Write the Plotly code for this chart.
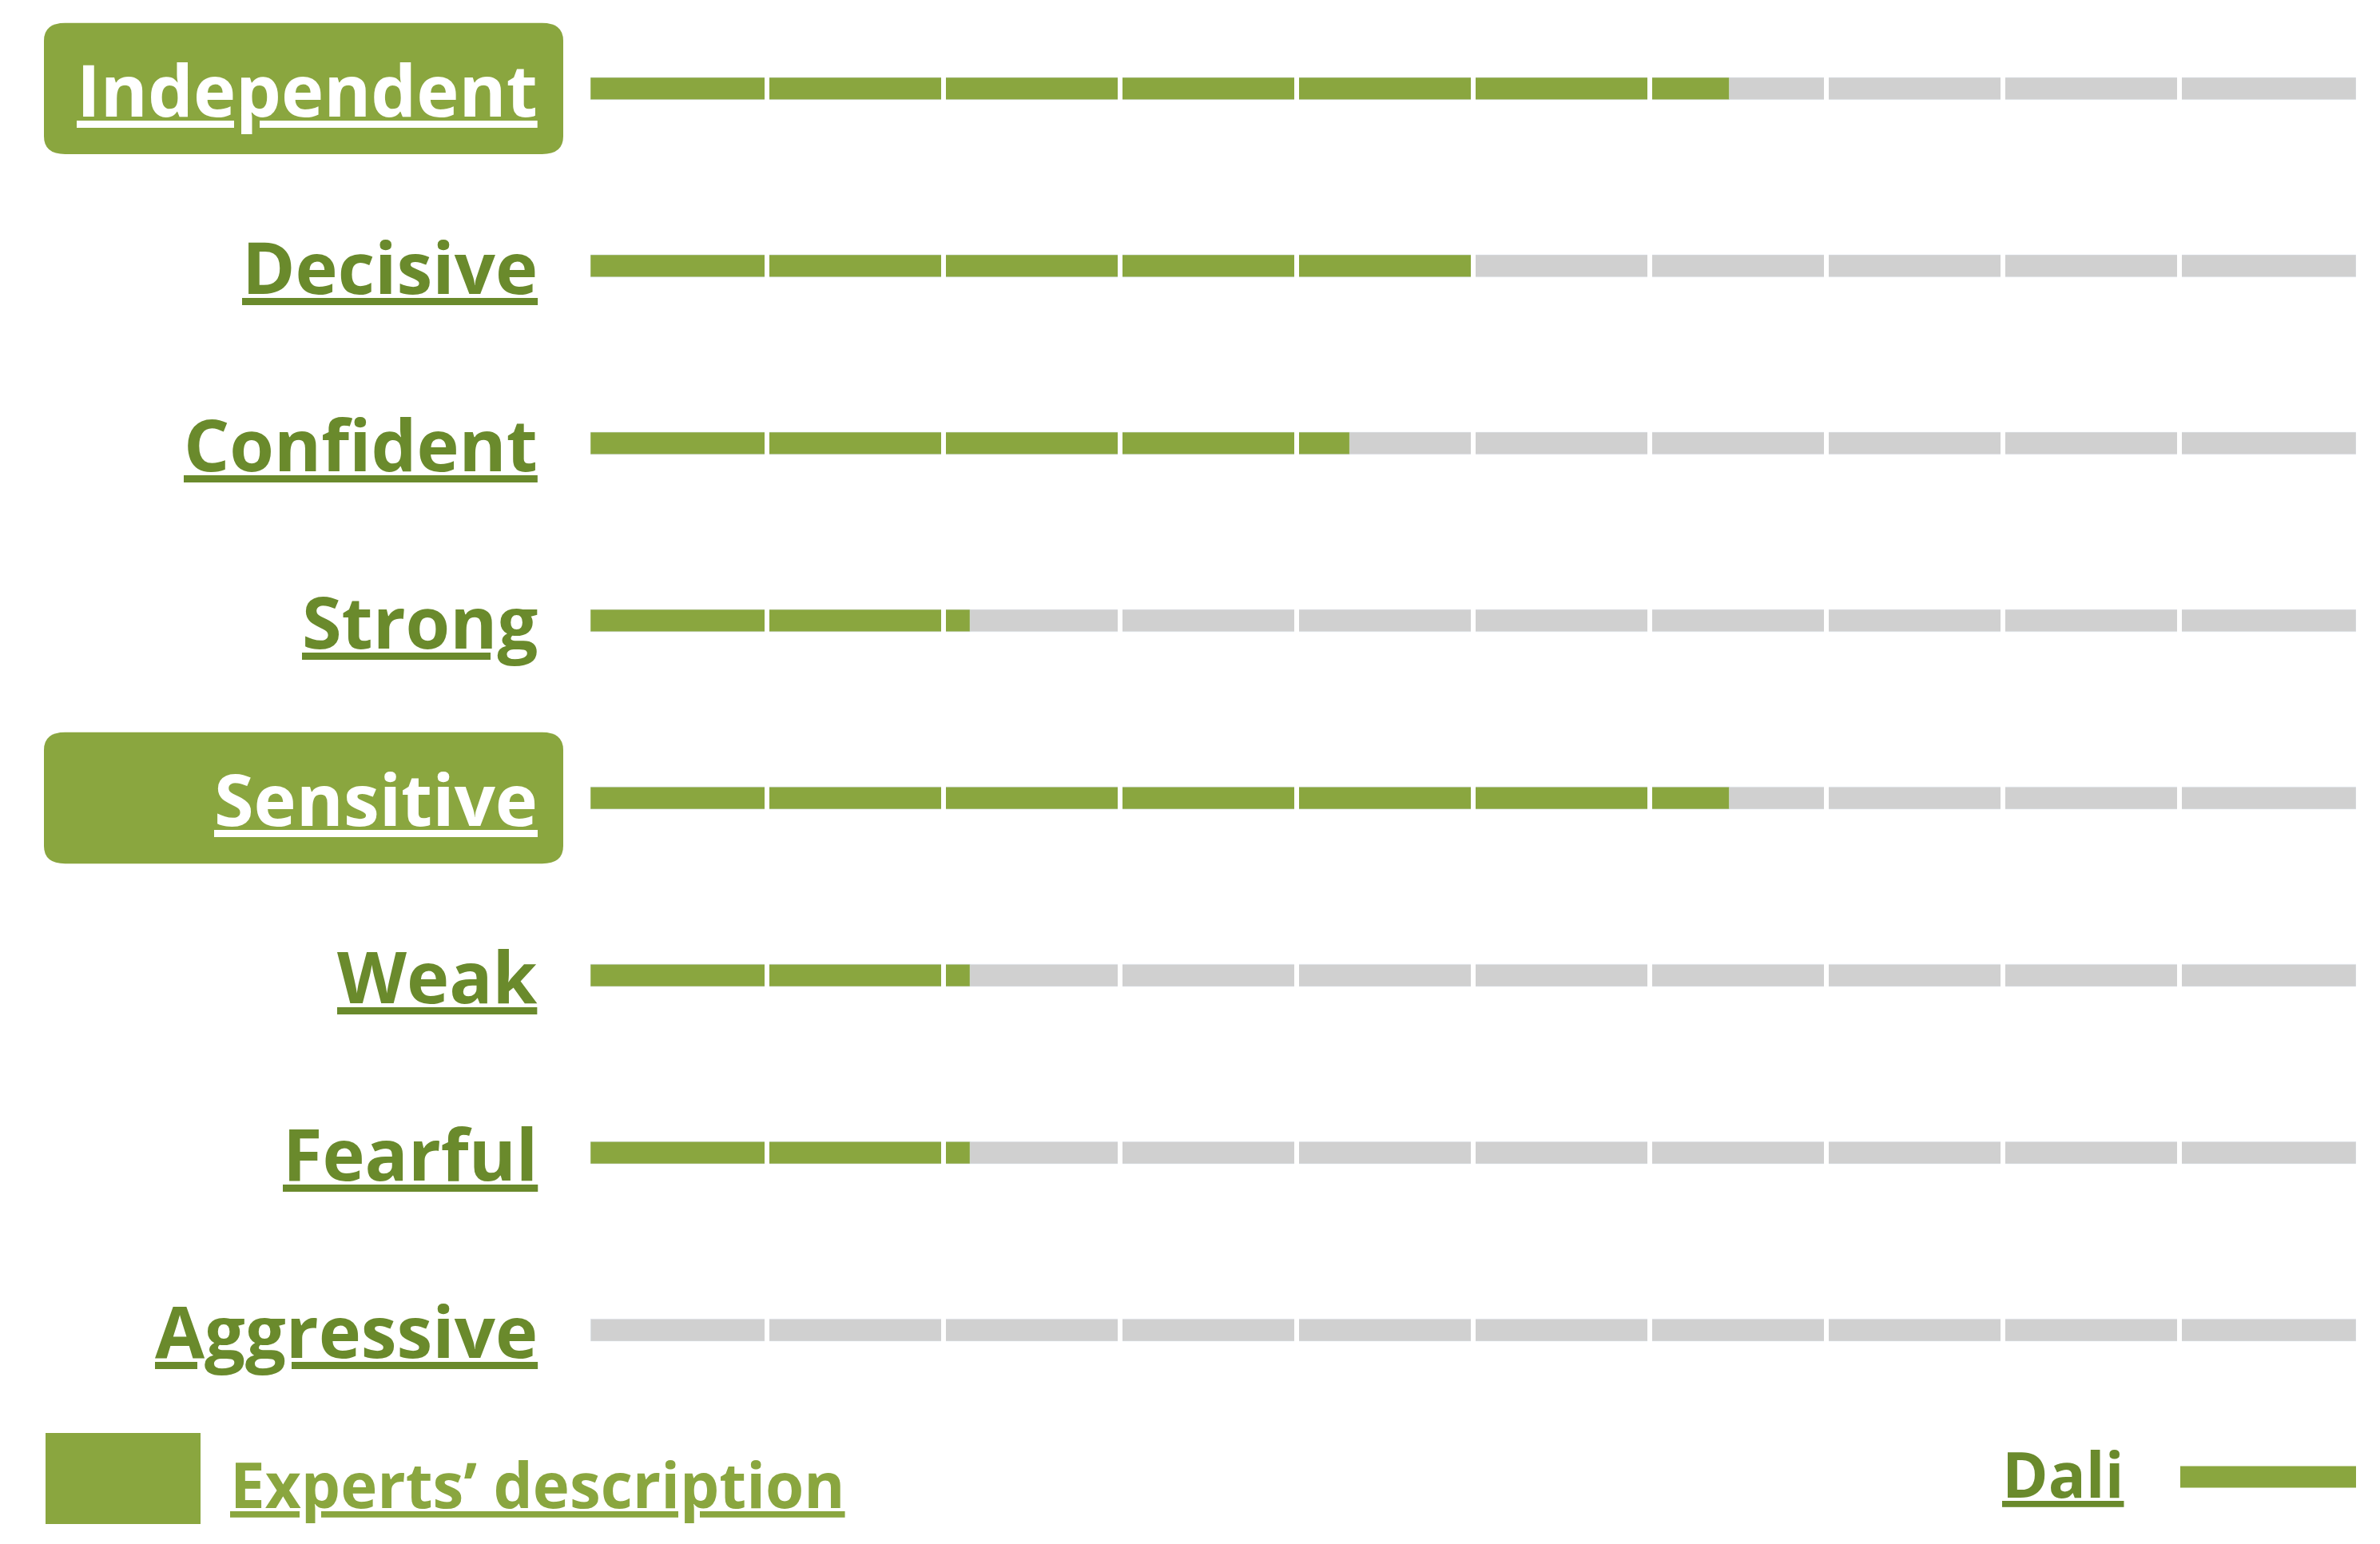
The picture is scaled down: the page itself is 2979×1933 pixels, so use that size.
import plotly.graph_objects as go

traits = ["Independent", "Decisive", "Confident", "Strong", "Sensitive", "Weak", "Fearful", "Aggressive"]
dali_scores = [6.45, 5.0, 4.3, 2.15, 6.45, 2.15, 2.15, 0.0]
expert_traits = ["Independent", "Sensitive"]
scale_max = 10

GREEN = "#8aa63f"
DARK = "#6a8a2c"
GREY = "#d0d0d0"

W, H = 2979, 1933
L, R, T, B = 731, 38, 14, 187
pw, ph = W - L - R, H - T - B

def px(x):
    return (x - L) / pw

def py(y):
    return (H - B - y) / ph

ys = list(range(len(traits)))
fig = go.Figure()
fig.add_trace(go.Bar(y=ys, x=[scale_max] * len(traits), orientation="h", marker_color=GREY,
                     width=0.125, showlegend=False, hoverinfo="skip"))
fig.add_trace(go.Bar(y=ys, x=dali_scores, orientation="h", marker_color=GREEN,
                     width=0.125, name="Dali", showlegend=False))

shapes = []
for k in range(1, scale_max):
    shapes.append(dict(type="line", xref="x", yref="paper", x0=k, x1=k, y0=0, y1=1,
                       line=dict(color="white", width=6), layer="above"))

annotations = []
for i, t in enumerate(traits):
    boxed = t in expert_traits
    if boxed:
        x0, x1 = px(47), px(697)
        y0, y1 = i - 0.37, i + 0.37
        rx, ry = 0.012, 0.1
        path = (f"M {x0+rx} {y0} L {x1-rx} {y0} Q {x1} {y0} {x1} {y0+ry} "
                f"L {x1} {y1-ry} Q {x1} {y1} {x1-rx} {y1} L {x0+rx} {y1} "
                f"Q {x0} {y1} {x0} {y1-ry} L {x0} {y0+ry} Q {x0} {y0} {x0+rx} {y0} Z")
        shapes.append(dict(type="path", xref="paper", yref="y", path=path,
                           fillcolor=GREEN, line=dict(width=0), layer="below"))
    annotations.append(dict(xref="paper", yref="y", x=px(667), y=i, xanchor="right", yanchor="middle",
                            text=f"<b><u>{t}</u></b>", showarrow=False,
                            font=dict(family="Open Sans", size=90, color="white" if boxed else DARK)))

# legend
shapes.append(dict(type="rect", xref="paper", yref="paper", x0=px(49), x1=px(243), y0=py(1900), y1=py(1786),
                   fillcolor=GREEN, line=dict(width=0)))
annotations.append(dict(xref="paper", yref="paper", x=px(278), y=py(1850), xanchor="left", yanchor="middle",
                        text="<b><u>Experts’ description</u></b>", showarrow=False,
                        font=dict(family="Open Sans", size=78, color=GREEN)))
annotations.append(dict(xref="paper", yref="paper", x=px(2652), y=py(1837), xanchor="right", yanchor="middle",
                        text="<b><u>Dali</u></b>", showarrow=False,
                        font=dict(family="Open Sans", size=78, color=DARK)))
shapes.append(dict(type="line", xref="paper", yref="paper", x0=px(2721), x1=px(2941), y0=py(1841), y1=py(1841),
                   line=dict(color=GREEN, width=27)))

fig.update_layout(width=W, height=H, margin=dict(l=L, r=R, t=T, b=B),
                  plot_bgcolor="white", paper_bgcolor="white", barmode="overlay",
                  shapes=shapes, annotations=annotations, showlegend=False,
                  xaxis=dict(range=[0, scale_max], visible=False, fixedrange=True),
                  yaxis=dict(range=[7.4, -0.4], visible=False, fixedrange=True))
fig.write_html("out.html")
